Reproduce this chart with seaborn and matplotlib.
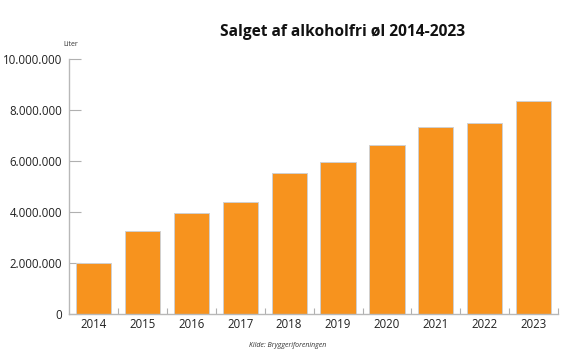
import matplotlib
matplotlib.use("Agg")
import matplotlib.pyplot as plt
import matplotlib.ticker as mticker
import seaborn as sns
import pandas as pd

# Salg af alkoholfri øl, liter pr. år
years = ["2014", "2015", "2016", "2017", "2018", "2019", "2020", "2021", "2022", "2023"]
liters = [2000000, 3250000, 3960000, 4390000, 5530000, 5970000, 6630000, 7330000, 7500000, 8350000]

df = pd.DataFrame({"year": years, "liters": liters})

sns.set_style("white")
plt.rcParams["font.family"] = ["Open Sans", "DejaVu Sans"]

fig = plt.figure(figsize=(5.76, 3.6), dpi=100)
ax = fig.add_axes([0.12, 0.128, 0.849, 0.708])

sns.barplot(data=df, x="year", y="liters", color="#F7931E", saturation=1,
            width=0.72, edgecolor="#d0d0d0", linewidth=0.7, ax=ax)

ax.set_ylim(0, 10000000)
ax.set_xlim(-0.5, len(years) - 0.5)
ax.yaxis.set_major_locator(mticker.MultipleLocator(2000000))
ax.yaxis.set_major_formatter(mticker.FuncFormatter(lambda v, p: f"{int(v):,}".replace(",", ".")))

# ticks between categories
ax.set_xticks([i + 0.5 for i in range(len(years))], minor=True)
ax.tick_params(axis="x", which="major", bottom=True, length=0, labelsize=8.3, pad=3, colors="#222222")
ax.tick_params(axis="x", which="minor", bottom=True, direction="in", length=4, width=0.8, color="#b0b0b0")
ax.tick_params(axis="y", which="major", left=True, direction="in", length=8.5, width=0.8, color="#b0b0b0",
               labelsize=8.3, pad=5, labelcolor="#222222")

for s in ["top", "right"]:
    ax.spines[s].set_visible(False)
for s in ["left", "bottom"]:
    ax.spines[s].set_color("#b8b8b8")
    ax.spines[s].set_linewidth(1.0)

ax.set_xlabel("")
ax.set_ylabel("")

fig.text(0.595, 0.91, "Salget af alkoholfri øl 2014-2023", ha="center", va="center",
         fontsize=11.2, fontweight="bold", color="#111111")
fig.text(0.122, 0.875, "Liter", ha="center", va="center", fontsize=5, color="#333333")
fig.text(0.5, 0.04, "Kilde: Bryggeriforeningen", ha="center", va="center",
         fontsize=5, style="italic", color="#333333")

fig.savefig("out.png", dpi=100)
